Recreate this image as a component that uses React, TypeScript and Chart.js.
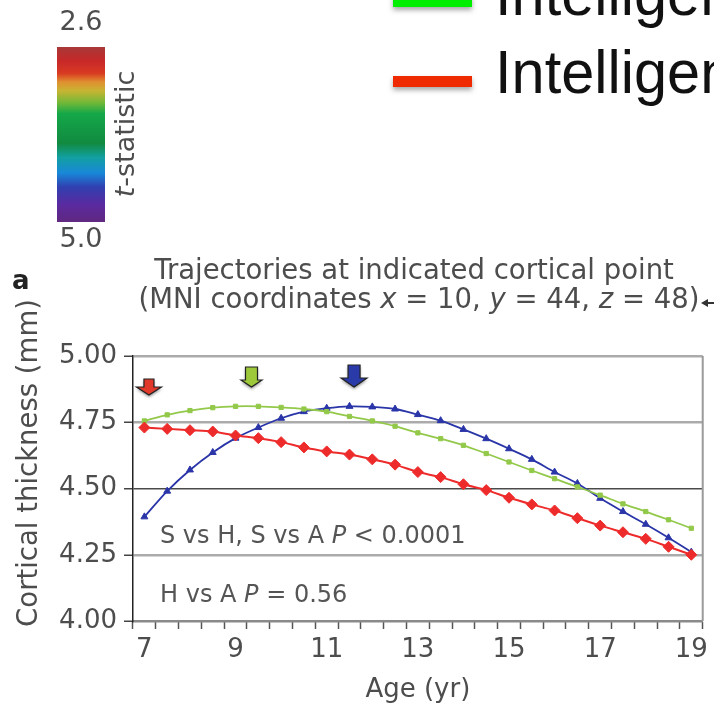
import React, { useEffect, useRef } from 'react';
import { Chart, registerables } from 'chart.js';

Chart.register(...registerables);

// ---------- data ----------
const ageLabels = ['7', '7.5', '8', '8.5', '9', '9.5', '10', '10.5', '11', '11.5', '12', '12.5', '13',
  '13.5', '14', '14.5', '15', '15.5', '16', '16.5', '17', '17.5', '18', '18.5', '19'];
const averageIQ = [4.73, 4.725, 4.72, 4.715, 4.70, 4.69, 4.675, 4.655, 4.64, 4.628, 4.61, 4.59, 4.562,
  4.543, 4.516, 4.494, 4.465, 4.44, 4.417, 4.388, 4.36, 4.335, 4.31, 4.28, 4.25];
const highIQ = [4.755, 4.778, 4.794, 4.805, 4.81, 4.81, 4.806, 4.80, 4.79, 4.772, 4.755, 4.735, 4.71,
  4.688, 4.663, 4.632, 4.60, 4.568, 4.537, 4.506, 4.475, 4.442, 4.413, 4.382, 4.35];
const superiorIQ = [4.393, 4.49, 4.57, 4.636, 4.69, 4.73, 4.765, 4.79, 4.803, 4.81, 4.808, 4.80, 4.779,
  4.756, 4.723, 4.688, 4.65, 4.61, 4.562, 4.519, 4.463, 4.413, 4.365, 4.314, 4.26];
const yTickValues = [4.0, 4.25, 4.5, 4.75, 5.0];
const peakAges = [7.1, 9.35, 11.6]; // average, high, superior
const colorbarLabels = ['2.6', '5.0'];
const legendLabels = ['Intelligence', 'Intelligence'];
const titleLine1 = 'Trajectories at indicated cortical point';
const titleLine2: [string, boolean][] = [
  ['(MNI coordinates ', false], ['x', true], [' = 10, ', false], ['y', true],
  [' = 44, ', false], ['z', true], [' = 48)', false],
];
const note1: [string, boolean][] = [['S vs H, S vs A ', false], ['P', true], [' < 0.0001', false]];
const note2: [string, boolean][] = [['H vs A ', false], ['P', true], [' = 0.56', false]];
const yTitle = 'Cortical thickness (mm)';
const xTitle = 'Age (yr)';

// ---------- style ----------
const FONT = '"DejaVu Sans", "Liberation Sans", sans-serif';
const TXT = '#4d4d4d';
const RED = '#ee2b2b';
const GREEN = '#93c94a';
const BLUE = '#2a35a8';

function drawRich(ctx: CanvasRenderingContext2D, parts: [string, boolean][], x: number, y: number,
  size: number, align: 'left' | 'center') {
  const widths = parts.map(([t, it]) => {
    ctx.font = `${it ? 'italic ' : ''}${size}px ${FONT}`;
    return ctx.measureText(t).width;
  });
  const total = widths.reduce((a, b) => a + b, 0);
  let cx = align === 'center' ? x - total / 2 : x;
  ctx.textAlign = 'left';
  parts.forEach(([t, it], i) => {
    ctx.font = `${it ? 'italic ' : ''}${size}px ${FONT}`;
    ctx.fillText(t, cx, y);
    cx += widths[i];
  });
}

function drawArrow(ctx: CanvasRenderingContext2D, cx: number, top: number, sw: number, sh: number,
  hw: number, hh: number, color: string) {
  ctx.save();
  ctx.beginPath();
  ctx.moveTo(cx - sw / 2, top);
  ctx.lineTo(cx + sw / 2, top);
  ctx.lineTo(cx + sw / 2, top + sh);
  ctx.lineTo(cx + hw / 2, top + sh);
  ctx.lineTo(cx, top + sh + hh);
  ctx.lineTo(cx - hw / 2, top + sh);
  ctx.lineTo(cx - sw / 2, top + sh);
  ctx.closePath();
  ctx.shadowColor = 'rgba(0,0,0,0.45)';
  ctx.shadowBlur = 3;
  ctx.shadowOffsetY = 2;
  ctx.fillStyle = color;
  ctx.fill();
  ctx.shadowColor = 'transparent';
  ctx.strokeStyle = '#222';
  ctx.lineWidth = 1.2;
  ctx.stroke();
  ctx.restore();
}

const overlay = {
  id: 'overlay',
  afterDraw(chart: any) {
    const ctx: CanvasRenderingContext2D = chart.ctx;
    const area = chart.chartArea;
    const xs = chart.scales.x;
    ctx.save();

    // right border of plot
    ctx.strokeStyle = '#9a9a9a';
    ctx.lineWidth = 2;
    ctx.beginPath();
    ctx.moveTo(area.right, area.top);
    ctx.lineTo(area.right, area.bottom);
    ctx.stroke();

    // colorbar
    const g = ctx.createLinearGradient(0, 47, 0, 222);
    const stops: [number, string][] = [
      [0, '#a83838'], [0.08, '#c82828'], [0.15, '#d83a22'], [0.2, '#e09030'], [0.25, '#c8b432'],
      [0.32, '#70b838'], [0.38, '#14a848'], [0.55, '#118a40'], [0.63, '#12a0a0'], [0.72, '#1888d8'],
      [0.8, '#3040b0'], [0.9, '#5a2aa0'], [1, '#602880'],
    ];
    stops.forEach(([o, c]) => g.addColorStop(o, c));
    ctx.fillStyle = g;
    ctx.fillRect(57, 47, 48, 175);
    ctx.fillStyle = TXT;
    ctx.font = `27px ${FONT}`;
    ctx.textAlign = 'center';
    ctx.textBaseline = 'middle';
    ctx.fillText(colorbarLabels[0], 81, 23);
    ctx.fillText(colorbarLabels[1], 81, 240);
    ctx.save();
    ctx.translate(127, 134);
    ctx.rotate(-Math.PI / 2);
    drawRich(ctx, [['t', true], ['-statistic', false]], 0, 0, 27, 'center');
    ctx.restore();

    // legend (cropped)
    ctx.save();
    ctx.shadowColor = 'rgba(0,0,0,0.35)';
    ctx.shadowBlur = 5;
    ctx.shadowOffsetY = 3;
    ctx.fillStyle = '#00ee00';
    ctx.fillRect(393, -5, 79, 12);
    ctx.fillStyle = '#f02a00';
    ctx.fillRect(393, 76, 79, 11);
    ctx.restore();
    ctx.save();
    ctx.fillStyle = '#111';
    ctx.textAlign = 'left';
    ctx.textBaseline = 'alphabetic';
    ctx.font = `62px "Liberation Sans", sans-serif`;
    ctx.translate(495, 0);
    ctx.scale(0.96, 1);
    ctx.fillText(legendLabels[0], 0, 15);
    ctx.fillText(legendLabels[1], 0, 93);
    ctx.restore();

    // panel letter + title
    ctx.fillStyle = '#222';
    ctx.textBaseline = 'middle';
    ctx.textAlign = 'left';
    ctx.font = `bold 26px ${FONT}`;
    ctx.fillText('a', 12, 282);
    ctx.fillStyle = TXT;
    ctx.font = `27.5px ${FONT}`;
    ctx.textAlign = 'center';
    ctx.fillText(titleLine1, 414, 272);
    drawRich(ctx, titleLine2, 419, 301, 27.5, 'center');
    // small leader arrow at the right edge
    ctx.strokeStyle = '#333';
    ctx.lineWidth = 2;
    ctx.beginPath();
    ctx.moveTo(705, 303);
    ctx.lineTo(714, 303);
    ctx.stroke();
    ctx.fillStyle = '#333';
    ctx.beginPath();
    ctx.moveTo(701, 303);
    ctx.lineTo(708, 299);
    ctx.lineTo(708, 307);
    ctx.closePath();
    ctx.fill();

    // axis titles
    ctx.fillStyle = TXT;
    ctx.font = `26px ${FONT}`;
    ctx.textAlign = 'center';
    ctx.fillText(xTitle, (area.left + area.right) / 2, 690);
    ctx.save();
    ctx.translate(30, 463);
    ctx.rotate(-Math.PI / 2);
    ctx.font = `27.5px ${FONT}`;
    ctx.fillText(yTitle, 0, 0);
    ctx.restore();

    // statistics notes
    ctx.fillStyle = '#555';
    drawRich(ctx, note1, 160, 537, 24, 'left');
    drawRich(ctx, note2, 160, 596, 24, 'left');

    // peak arrows
    const px = (age: number) => xs.getPixelForValue((age - 7) / 0.5);
    drawArrow(ctx, px(peakAges[0]), area.top + 23, 10, 8, 25, 8, '#e23a2a');
    drawArrow(ctx, px(peakAges[1]), area.top + 11, 12, 13, 21, 7, '#9cc83a');
    drawArrow(ctx, px(peakAges[2]), area.top + 9, 12, 13, 26, 9, '#2a3aa8');

    ctx.restore();
  },
};

export default function App() {
  const ref = useRef<HTMLCanvasElement | null>(null);
  useEffect(() => {
    if (!ref.current) return;
    const chart = new Chart(ref.current, {
      type: 'line',
      data: {
        labels: ageLabels,
        datasets: [
          {
            label: 'Average', data: averageIQ, borderColor: RED, backgroundColor: RED,
            pointStyle: 'rectRot', pointRadius: 5.5, pointBorderWidth: 1, borderWidth: 2, tension: 0.3,
          },
          {
            label: 'High', data: highIQ, borderColor: GREEN, backgroundColor: GREEN,
            pointStyle: 'rect', pointRadius: 3, pointBorderWidth: 1, borderWidth: 1.8, tension: 0.3,
          },
          {
            label: 'Superior', data: superiorIQ, borderColor: BLUE, backgroundColor: BLUE,
            pointStyle: 'triangle', pointRadius: 4, pointBorderWidth: 1, borderWidth: 1.8, tension: 0.3,
          },
        ],
      },
      options: {
        animation: false,
        responsive: true,
        maintainAspectRatio: false,
        layout: { padding: { left: 0, top: 356, right: 6, bottom: 0 } },
        plugins: { legend: { display: false }, tooltip: { enabled: false }, title: { display: false } },
        scales: {
          x: {
            type: 'category',
            offset: true,
            afterFit: (s: any) => { s.height = 86; },
            grid: {
              offset: true, drawOnChartArea: false, drawTicks: true, tickLength: 8,
              tickColor: '#555', tickWidth: 1.5,
            },
            border: { color: '#8a8a8a', width: 2 },
            ticks: {
              autoSkip: false, maxRotation: 0, padding: 6, color: TXT,
              font: { family: FONT, size: 26 },
              callback: function (this: any, val: any, idx: number) {
                return idx % 4 === 0 ? ageLabels[idx] : '';
              },
            },
          },
          y: {
            min: 4.0,
            max: 5.0,
            afterFit: (s: any) => { s.width = 133; },
            afterBuildTicks: (s: any) => { s.ticks = yTickValues.map((v) => ({ value: v })); },
            grid: {
              color: (c: any) => (c.tick && c.tick.value === 4.5 ? '#4a4a4a'
                : c.tick && c.tick.value === 4.0 ? '#8a8a8a' : '#ababab'),
              lineWidth: (c: any) => (c.tick && c.tick.value === 4.5 ? 1.5 : 2.5),
              tickColor: '#444', tickWidth: 1.5, tickLength: 9,
            },
            border: { color: '#222', width: 1.5 },
            ticks: {
              padding: 7, color: TXT, font: { family: FONT, size: 26 },
              callback: (v: any) => Number(v).toFixed(2),
            },
          },
        },
      },
      plugins: [overlay],
    });
    return () => chart.destroy();
  }, []);
  return (
    <div style={{ position: 'absolute', left: 0, top: 0, width: 714, height: 707, background: '#fff' }}>
      <canvas ref={ref} />
    </div>
  );
}
